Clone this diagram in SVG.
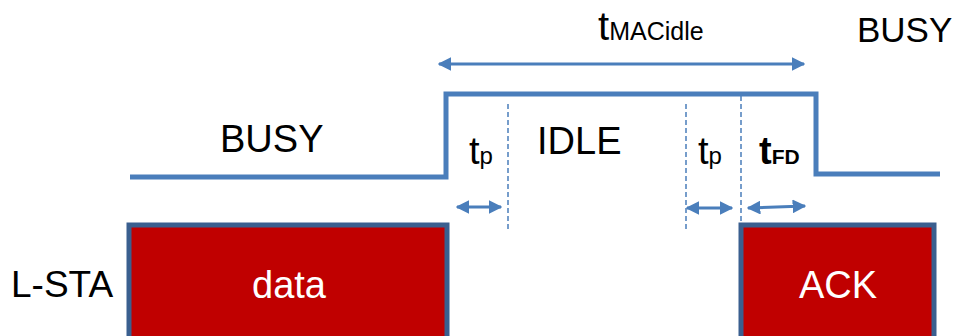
<svg xmlns="http://www.w3.org/2000/svg" width="959" height="336" viewBox="0 0 959 336">
  <defs>
    <marker id="ah" viewBox="0 0 10 10" refX="9" refY="5" markerWidth="4.6" markerHeight="4.6" orient="auto-start-reverse" markerUnits="strokeWidth">
      <path d="M0,0 L10,5 L0,10 z" fill="#4a7ebb"/>
    </marker>
  </defs>
  <style>
    .lbl { font-family: "Liberation Sans", Arial, sans-serif; fill: #000; }
    .wave { fill: none; stroke: #4a7ebb; stroke-width: 5; stroke-linejoin: miter; }
    .dash { stroke: #4a7ebb; stroke-width: 1.5; stroke-dasharray: 5 3; }
    .span { stroke: #4a7ebb; stroke-width: 3; marker-start: url(#ah); marker-end: url(#ah); }
    .frame { fill: #c00000; stroke: #3a5f8f; stroke-width: 5; }
    .inframe { font-family: "Liberation Sans", Arial, sans-serif; fill: #fff; font-size: 38px; text-anchor: middle; }
  </style>
  <rect width="959" height="336" fill="#fff"/>

  <!-- channel state waveform -->
  <g id="waveform">
    <path class="wave" d="M130,177 H446 V94 H816 V174 H940"/>
  </g>

  <g id="connectors">
    <line class="dash" x1="508" y1="104" x2="508" y2="230"/>
    <line class="dash" x1="686" y1="104" x2="686" y2="230"/>
    <line class="dash" x1="741" y1="96" x2="741" y2="226"/>
    <line class="span" x1="439" y1="64" x2="804" y2="64"/>
    <line class="span" x1="457" y1="207" x2="501" y2="207"/>
    <line class="span" x1="687" y1="208" x2="732" y2="208"/>
    <line class="span" x1="748" y1="208" x2="805" y2="206"/>
  </g>

  <g id="labels">
    <text class="lbl" x="598" y="40"><tspan font-size="40">t</tspan><tspan font-size="25">MACidle</tspan></text>
    <text class="lbl" x="857" y="42" font-size="35">BUSY</text>
    <text class="lbl" x="220" y="152" font-size="38">BUSY</text>
    <text class="lbl" x="537" y="154" font-size="38">IDLE</text>
    <text class="lbl" x="469" y="164"><tspan font-size="38">t</tspan><tspan font-size="24">p</tspan></text>
    <text class="lbl" x="698" y="164"><tspan font-size="38">t</tspan><tspan font-size="24">p</tspan></text>
    <text class="lbl" x="759" y="164" font-weight="bold"><tspan font-size="38">t</tspan><tspan font-size="21">FD</tspan></text>
    <text class="lbl" x="11" y="297" font-size="37">L-STA</text>
  </g>

  <g id="data">
    <rect class="frame" x="129" y="225" width="318" height="116"/>
    <text class="inframe" x="289" y="298" font-size="41">data</text>
  </g>

  <g id="ack">
    <rect class="frame" x="741" y="225" width="193" height="116"/>
    <text class="inframe" x="838" y="298">ACK</text>
  </g>
</svg>
